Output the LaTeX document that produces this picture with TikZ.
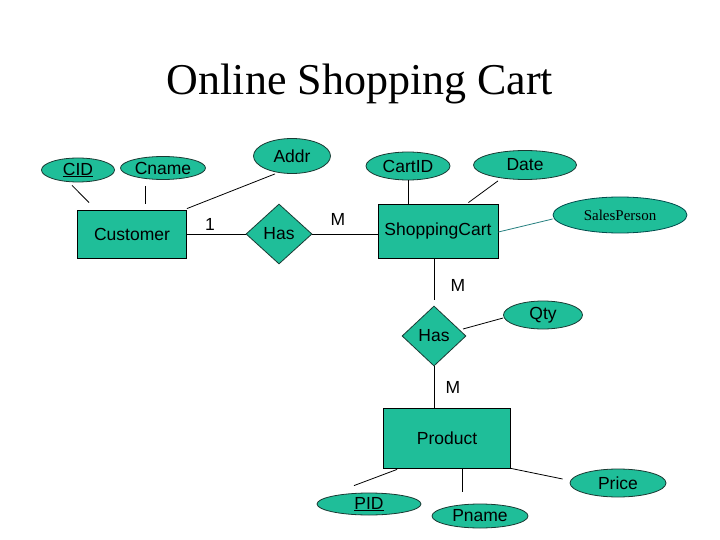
\documentclass[tikz,border=0pt]{standalone}
\usepackage{fontspec}
\setmainfont{Liberation Sans}
\newfontfamily\timesf{Liberation Serif}
\usetikzlibrary{shapes.geometric,calc}
\definecolor{erfill}{HTML}{1FBE99}
\definecolor{erline}{HTML}{1A3A33}
\tikzset{
  ent/.style={draw=black, line width=0.8pt, fill=erfill, rectangle, inner sep=0pt, font=\fontsize{17.5}{20}\selectfont},
  attr/.style={draw=erline, line width=0.8pt, fill=erfill, ellipse, inner sep=0pt, font=\fontsize{17.5}{20}\selectfont},
  rel/.style={draw=erline, line width=0.8pt, fill=erfill, diamond, inner sep=0pt, font=\fontsize{17.5}{20}\selectfont},
  conn/.style={draw=black, line width=0.8pt},
  card/.style={font=\fontsize{17.5}{20}\selectfont, inner sep=0pt}
}
\begin{document}
\begin{tikzpicture}[x=1pt,y=-1pt]
\useasboundingbox (0,0) rectangle (720,540);
\fill[white] (0,0) rectangle (720,540);
\node[anchor=base, font=\timesf\fontsize{44}{48}\selectfont, inner sep=0pt] (title) at (360,95) {Online Shopping Cart};

% entities
\node[ent, minimum width=109pt, minimum height=48pt] (cust) at (132,234) {Customer};
\node[ent, minimum width=120pt, minimum height=54pt] (sc) at (438,231) {ShoppingCart};
\node[ent, minimum width=127pt, minimum height=60pt] (prod) at (447,438) {Product};

% relationships
\node[rel, minimum width=66pt, minimum height=60pt] (has1) at (279,234) {Has};
\node[rel, minimum width=64pt, minimum height=60pt] (has2) at (434,336) {Has};

% attributes
\node[attr, minimum width=73pt, minimum height=24pt] (cid) at (78,170) {\underline{CID}};
\node[attr, minimum width=85pt, minimum height=23pt] (cname) at (163,168) {Cname};
\node[attr, minimum width=77pt, minimum height=35pt] (addr) at (292,156) {Addr};
\node[attr, minimum width=84pt, minimum height=28pt] (cartid) at (408,166) {CartID};
\node[attr, minimum width=103pt, minimum height=29pt] (date) at (525,165) {Date};
\node[attr, draw=teal!60!black, minimum width=134pt, minimum height=36pt, font=\timesf\fontsize{15}{18}\selectfont] (sp) at (620,215) {SalesPerson};
\node[attr, minimum width=79pt, minimum height=28pt] (qty) at (543,315) {Qty};
\node[attr, minimum width=104pt, minimum height=22pt] (pid) at (369,504) {\underline{PID}};
\node[attr, minimum width=96pt, minimum height=24pt] (pname) at (480,516) {Pname};
\node[attr, minimum width=96pt, minimum height=28pt] (price) at (618,483) {Price};

% cardinalities
\node[card] (c1) at (210,224) {1};
\node[card] (c2) at (338,219) {M};
\node[card] (c3) at (458,285) {M};
\node[card] (c4) at (453,387) {M};

% connectors
\draw[conn] ($(cid.south)+(-6,3)$) -- ($(cust.north west)+(12,-7)$);
\draw[conn] ($(cname.south)+(-18,6)$) -- ($(cust.north)+(13,-6)$);
\draw[conn] ($(cust.north east)+(0,-1)$) -- ($(addr.south)+(-17,0)$);
\draw[conn] (cust.east) -- (has1.west);
\draw[conn] (has1.east) -- (has1.east -| sc.west);
\draw[conn] (cartid.south) -- (cartid.south |- sc.north);
\draw[conn] ($(date.south)+(-27,1)$) -- ($(sc.north east)+(-30,-1)$);
\draw[line width=0.8pt, draw=teal!70!gray] ($(sc.east)+(0,1)$) -- ($(sp.west)+(0,4)$);
\draw[conn] (sc.south -| has2.north) -- ($(has2.north)+(0,-6)$);
\draw[conn] ($(has2.center)+(29,-7)$) -- ($(qty.west)+(0,3)$);
\draw[conn] (has2.south) -- (has2.south |- prod.north);
\draw[conn] ($(prod.south west)+(14,1)$) -- ($(pid.north)+(-15,-7)$);
\draw[conn] ($(prod.south)+(15,0)$) -- ($(pname.north)+(-18,-12)$);
\draw[conn] (prod.south east) -- ($(price.west)+(-7,-4)$);
\end{tikzpicture}
\end{document}
